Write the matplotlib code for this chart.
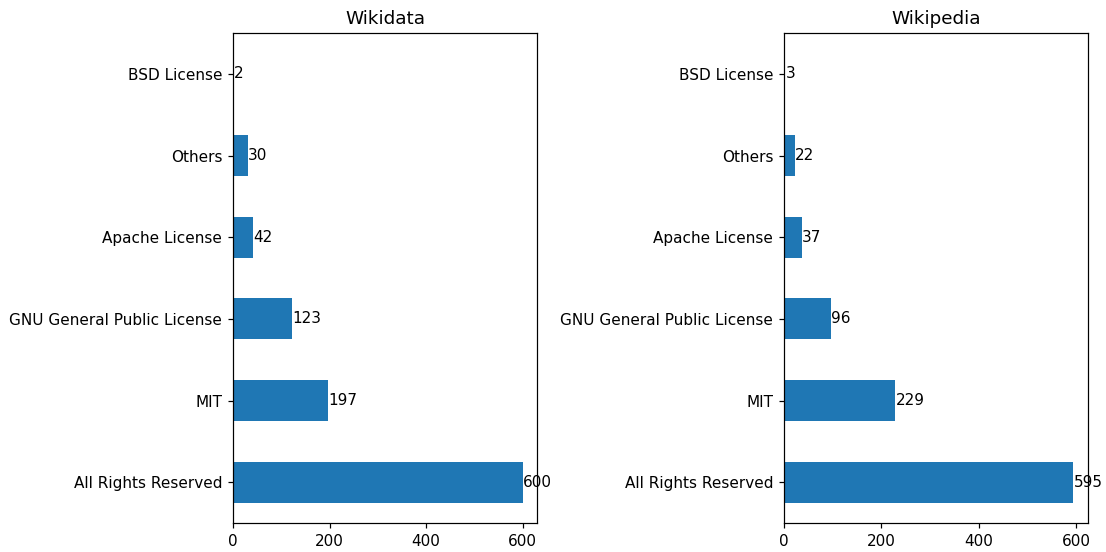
import matplotlib
matplotlib.use("Agg")
import matplotlib.pyplot as plt
from matplotlib.ticker import MultipleLocator

licenses = ["All Rights Reserved", "MIT", "GNU General Public License",
            "Apache License", "Others", "BSD License"]
wikidata_counts = [600, 197, 123, 42, 30, 2]
wikipedia_counts = [595, 229, 96, 37, 22, 3]

fig, axes = plt.subplots(1, 2, figsize=(1106 / 110, 552 / 110), dpi=110)

for ax, counts, title in zip(axes, [wikidata_counts, wikipedia_counts],
                             ["Wikidata", "Wikipedia"]):
    ypos = range(len(licenses))
    bars = ax.barh(ypos, counts, height=0.5, color="#1f77b4")
    ax.set_yticks(list(ypos))
    ax.set_yticklabels(licenses)
    ax.set_ylim(-0.5, len(licenses) - 0.5)
    ax.xaxis.set_major_locator(MultipleLocator(200))
    ax.bar_label(bars)
    ax.set_title(title)

plt.subplots_adjust(left=0.2107, right=0.9837, top=0.940, bottom=0.0525, wspace=0.8125)
plt.savefig("out.png")
